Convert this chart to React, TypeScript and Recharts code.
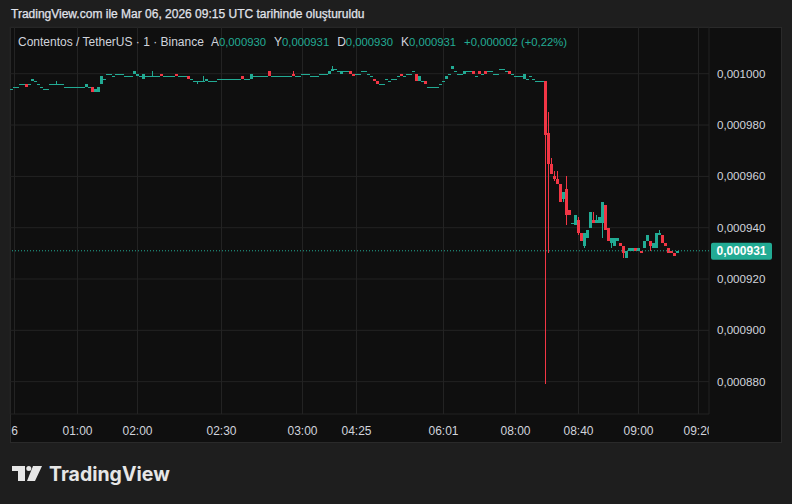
import React from 'react';
import { ComposedChart, Bar, XAxis, YAxis, CartesianGrid, ReferenceLine } from 'recharts';

// Prices in units of 0.000001 USDT, one candle per 1-minute slot
const opens = [
  994, 995, 995, 996, 996, 996, 996, 997, 997, 996,
  995, 994, 994, 996, 996, 996, 996, 996, 995, 995,
  995, 995, 995, 995, 995, 995, 995, 995, 993, 993,
  996, 998, 1000, 1000, 999, 1000, 1000, 1000, 999, 999,
  999, 1000, 999, 999, 998, 999, 999, 999, 999, 999,
  1000, 999, 999, 999, 999, 1000, 999, 999, 999, 999,
  998, 997, 997, 997, 997, 997, 997, 997, 997, 998,
  998, 998, 998, 998, 998, 998, 998, 999, 998, 998,
  998, 999, 999, 999, 999, 999, 1001, 999, 999, 999,
  999, 999, 999, 999, 1000, 999, 999, 1000, 1000, 1000,
  999, 999, 999, 1000, 1000, 1000, 1000, 1001, 1002, 1001,
  1000, 1001, 1001, 1001, 1000, 1000, 1000, 1001, 1001, 1000,
  999, 998, 997, 996, 996, 998, 997, 998, 998, 999,
  1000, 999, 1000, 1000, 1001, 1000, 997, 997, 997, 995,
  995, 995, 995, 996, 997, 998, 1000, 1002, 1001, 1000,
  1000, 1000, 1001, 1001, 1001, 999, 1001, 1000, 1001, 1001,
  1001, 1000, 1000, 1002, 1002, 1001, 1001, 1000, 999, 999,
  999, 998, 998, 999, 998, 997, 997, 997, 997, 977,
  965, 960, 959, 957, 951, 955, 947, 942, 941, 943,
  938, 933, 936, 940, 943, 942, 942, 942, 949, 940,
  934, 933, 935, 934, 933, 928, 931, 931, 932, 931,
  931, 932, 935, 935, 932, 932, 937, 937, 934, 932,
  931, 930, 930,
];
const highs = [
  994, 995, 995, 996, 996, 996, 996, 998, 997, 996,
  995, 994, 994, 996, 996, 997, 996, 996, 995, 995,
  995, 995, 995, 995, 995, 996, 995, 995, 994, 995,
  999, 998, 1000, 1000, 999, 1000, 1000, 1000, 999, 999,
  999, 1001, 1000, 999, 1000, 999, 999, 1001, 999, 999,
  1000, 999, 999, 999, 999, 1000, 999, 999, 999, 999,
  998, 997, 997, 997, 999, 998, 997, 997, 997, 998,
  998, 998, 998, 998, 998, 998, 998, 999, 998, 998,
  1000, 999, 999, 999, 999, 999, 1001, 999, 999, 999,
  999, 999, 999, 999, 1001, 999, 999, 1000, 1000, 1000,
  999, 999, 999, 1000, 1000, 1000, 1001, 1003, 1002, 1001,
  1001, 1001, 1001, 1001, 1000, 1000, 1000, 1001, 1001, 1000,
  999, 998, 997, 996, 996, 998, 997, 998, 998, 999,
  1000, 999, 1000, 1000, 1001, 1000, 999, 997, 997, 995,
  995, 995, 995, 996, 997, 999, 1000, 1003, 1001, 1000,
  1000, 1001, 1001, 1001, 1001, 999, 1001, 1000, 1001, 1001,
  1001, 1000, 1000, 1002, 1002, 1001, 1001, 1000, 999, 999,
  999, 1000, 998, 999, 998, 997, 997, 997, 997, 985,
  967, 962, 962, 957, 954, 960, 947, 942, 945, 944,
  938, 938, 939, 946, 946, 945, 944, 950, 949, 940,
  936, 936, 936, 934, 933, 931, 932, 932, 932, 932,
  931, 935, 937, 935, 934, 938, 939, 937, 934, 932,
  931, 930, 931,
];
const lows = [
  994, 995, 995, 996, 996, 995, 996, 997, 997, 996,
  995, 994, 994, 996, 996, 996, 996, 996, 995, 995,
  995, 995, 995, 995, 995, 995, 995, 993, 993, 993,
  996, 998, 1000, 1000, 999, 1000, 1000, 1000, 999, 999,
  999, 1000, 999, 999, 998, 999, 999, 999, 999, 999,
  999, 999, 999, 999, 999, 999, 999, 999, 999, 998,
  998, 997, 996, 997, 997, 997, 997, 997, 997, 998,
  998, 998, 998, 998, 998, 998, 998, 998, 998, 998,
  998, 999, 999, 999, 999, 999, 999, 999, 999, 999,
  999, 999, 999, 999, 999, 999, 999, 1000, 1000, 1000,
  999, 999, 999, 1000, 1000, 1000, 1000, 1001, 1002, 1001,
  1000, 1001, 1001, 1000, 999, 1000, 1000, 1001, 1001, 1000,
  999, 997, 996, 996, 996, 998, 997, 998, 998, 999,
  999, 999, 1000, 1000, 1001, 997, 997, 997, 996, 995,
  995, 995, 995, 996, 997, 998, 1000, 1002, 1001, 1000,
  1000, 1000, 1001, 1001, 1000, 999, 1000, 1000, 1000, 1001,
  1001, 1000, 1000, 1002, 1002, 1001, 1000, 1000, 999, 999,
  999, 998, 998, 999, 998, 997, 997, 997, 879, 930,
  961, 958, 957, 950, 950, 941, 945, 942, 941, 937,
  935, 932, 936, 940, 942, 942, 942, 936, 939, 935,
  932, 933, 935, 933, 928, 928, 931, 931, 931, 931,
  930, 932, 935, 931, 932, 932, 937, 934, 933, 930,
  930, 929, 930,
];
const closes = [
  994, 995, 995, 996, 996, 995, 996, 998, 997, 996,
  995, 994, 994, 996, 996, 996, 996, 996, 995, 995,
  995, 995, 995, 995, 995, 996, 995, 993, 994, 995,
  999, 998, 1000, 1000, 999, 1000, 1000, 1000, 999, 999,
  999, 1001, 1000, 999, 1000, 999, 999, 999, 999, 999,
  999, 999, 999, 999, 999, 999, 999, 999, 999, 998,
  998, 997, 997, 997, 997, 998, 997, 997, 997, 998,
  998, 998, 998, 998, 998, 998, 998, 998, 998, 998,
  1000, 999, 999, 999, 999, 999, 999, 999, 999, 999,
  999, 999, 999, 999, 999, 999, 999, 1000, 1000, 1000,
  999, 999, 999, 1000, 1000, 1000, 1001, 1002, 1002, 1001,
  1001, 1001, 1001, 1000, 999, 1000, 1000, 1001, 1001, 1000,
  999, 997, 996, 996, 996, 998, 997, 998, 998, 999,
  999, 999, 1000, 1000, 1001, 997, 999, 997, 996, 995,
  995, 995, 995, 996, 997, 999, 1000, 1003, 1001, 1000,
  1000, 1001, 1001, 1001, 1000, 999, 1000, 1000, 1000, 1001,
  1001, 1000, 1000, 1002, 1002, 1001, 1000, 1000, 999, 999,
  999, 1000, 998, 999, 998, 997, 997, 997, 976, 965,
  961, 959, 957, 950, 954, 945, 945, 942, 945, 938,
  935, 938, 939, 946, 942, 943, 944, 950, 939, 935,
  936, 936, 936, 933, 930, 931, 932, 932, 931, 932,
  930, 935, 937, 933, 934, 938, 938, 934, 933, 930,
  930, 929, 931,
];

const TOTAL_SLOTS = 233;
const tickSlots = [1, 22, 42, 70, 97, 115, 144, 168, 189, 209, 229];
const tickLabels = ['6', '01:00', '02:00', '02:30', '03:00', '04:25', '06:01', '08:00', '08:40', '09:00', '09:20'];
const priceTicks = [880, 900, 920, 940, 960, 980, 1000];
const priceDomain = [867.4, 1018.2];
const lastPrice = 931;
const changeText = '+0,000002 (+0,22%)';

const UP = '#22ab94';
const DOWN = '#f23645';
const TEXT = '#d1d4dc';
const FONT = '"Liberation Sans", Arial, sans-serif';

const data = Array.from({ length: TOTAL_SLOTS }, (_, i) =>
  i < opens.length
    ? { slot: i, open: opens[i], high: highs[i], low: lows[i], close: closes[i] }
    : { slot: i }
);

const fmtPrice = (v: number) => (v / 1e6).toFixed(6).replace('.', ',');
const fmtTime = (v: number) => {
  const k = tickSlots.indexOf(v);
  return k >= 0 ? tickLabels[k] : '';
};

const Candle = (props: any) => {
  const { x, y, width, height, payload } = props;
  if (!payload || payload.high == null || x == null || y == null) return null;
  const { open, high, low, close } = payload;
  const top = Math.min(y, y + (height || 0));
  const bot = Math.max(y, y + (height || 0));
  const span = high - low;
  const yOf = (v: number) => (span > 0 ? top + ((high - v) / span) * (bot - top) : top);
  const color = close >= open ? UP : DOWN;
  const yo = yOf(open);
  const yc = yOf(close);
  const bTop = Math.round(Math.min(yo, yc));
  let bBot = Math.round(Math.max(yo, yc));
  if (bBot - bTop < 1) bBot = bTop + 1;
  const wTop = Math.round(yOf(high));
  const wBot = Math.max(wTop + 1, Math.round(yOf(low)));
  const bx = Math.round(x);
  const bw = Math.max(1, Math.round(width));
  const cx = bx + Math.floor(bw / 2);
  return (
    <g>
      <rect x={cx} y={wTop} width={1} height={wBot - wTop} fill={color} shapeRendering="crispEdges" />
      <rect x={bx} y={bTop} width={bw} height={bBot - bTop} fill={color} shapeRendering="crispEdges" />
    </g>
  );
};

const PriceTag = (props: any) => {
  const vb = props.viewBox || {};
  const x0 = vb.x + vb.width + 2;
  const y0 = vb.y;
  return (
    <g>
      <rect x={x0} y={y0 - 8} width={61} height={17} rx={2} fill={UP} />
      <text x={x0 + 30.5} y={y0 + 4.5} textAnchor="middle" fill="#ffffff" fontSize={12} fontWeight={700} fontFamily={FONT}>
        {fmtPrice(lastPrice)}
      </text>
    </g>
  );
};

export default function App() {
  const num = { color: UP, fontSize: 11.3 };
  return (
    <div style={{ position: 'absolute', left: 0, top: 0, width: 792, height: 504, background: '#1e1e1e', overflow: 'hidden', fontFamily: FONT }}>
      <div style={{ position: 'absolute', left: 11, top: 7, fontSize: 12, lineHeight: '14px', color: '#e0e3eb', whiteSpace: 'nowrap', WebkitTextStroke: '0.25px #e0e3eb' }}>
        TradingView.com ile Mar 06, 2026 09:15 UTC tarihinde oluşturuldu
      </div>
      <div style={{ position: 'absolute', left: 10, top: 27, width: 772, height: 416, background: '#0f0f0f', boxSizing: 'border-box', border: '1px solid #2a2a2a' }} />
      <div style={{ position: 'absolute', left: 0, top: 0 }}>
        <ComposedChart
          width={792}
          height={504}
          data={data}
          margin={{ top: 27, right: 10, bottom: 60, left: 10 }}
          barCategoryGap={0}
          barGap={0}
        >
          <CartesianGrid stroke="#232323" />
          <XAxis
            dataKey="slot"
            type="category"
            ticks={tickSlots}
            interval={0}
            height={30}
            axisLine={false}
            tickLine={false}
            tickMargin={6}
            tickFormatter={fmtTime}
            tick={{ fill: TEXT, fontSize: 12, fontFamily: FONT }}
          />
          <YAxis
            orientation="right"
            type="number"
            width={73}
            domain={priceDomain}
            allowDataOverflow
            ticks={priceTicks}
            axisLine={false}
            tickLine={false}
            tickMargin={2}
            tickFormatter={fmtPrice}
            tick={{ fill: TEXT, fontSize: 11.6, fontFamily: FONT }}
          />
          <ReferenceLine y={lastPrice} stroke={UP} strokeDasharray="1 2" ifOverflow="visible" label={<PriceTag />} />
          <Bar
            dataKey={(d: any) => (d.high == null ? null : [d.low, d.high])}
            shape={Candle}
            isAnimationActive={false}
          />
        </ComposedChart>
      </div>
      <div style={{ position: 'absolute', left: 709, top: 416, width: 72, height: 26, background: '#0f0f0f' }} />
      <div style={{ position: 'absolute', left: 18, top: 35, fontSize: 12, lineHeight: '14px', color: TEXT, whiteSpace: 'nowrap' }}>
        <span>Contentos / TetherUS · 1 · Binance</span>
        <span style={{ marginLeft: 7 }}>A</span><span style={num}>{fmtPrice(opens[opens.length - 1])}</span>
        <span style={{ marginLeft: 8 }}>Y</span><span style={num}>{fmtPrice(highs[highs.length - 1])}</span>
        <span style={{ marginLeft: 8 }}>D</span><span style={num}>{fmtPrice(lows[lows.length - 1])}</span>
        <span style={{ marginLeft: 8 }}>K</span><span style={num}>{fmtPrice(closes[closes.length - 1])}</span>
        <span style={{ ...num, marginLeft: 8 }}>{changeText}</span>
      </div>
      <svg style={{ position: 'absolute', left: 0, top: 450 }} width={200} height={54}>
        <path d="M12 16 H25 V31 H18 V21 H12 Z" fill="#e6e6e6" />
        <circle cx={28.8} cy={18.4} r={2.5} fill="#e6e6e6" />
        <path d="M33 16 H42 L35 31 H27 Z" fill="#e6e6e6" />
        <text x={49} y={31} fontSize={19.5} fontWeight={700} fontFamily="Inter, sans-serif" fill="#e6e6e6">TradingView</text>
      </svg>
    </div>
  );
}
